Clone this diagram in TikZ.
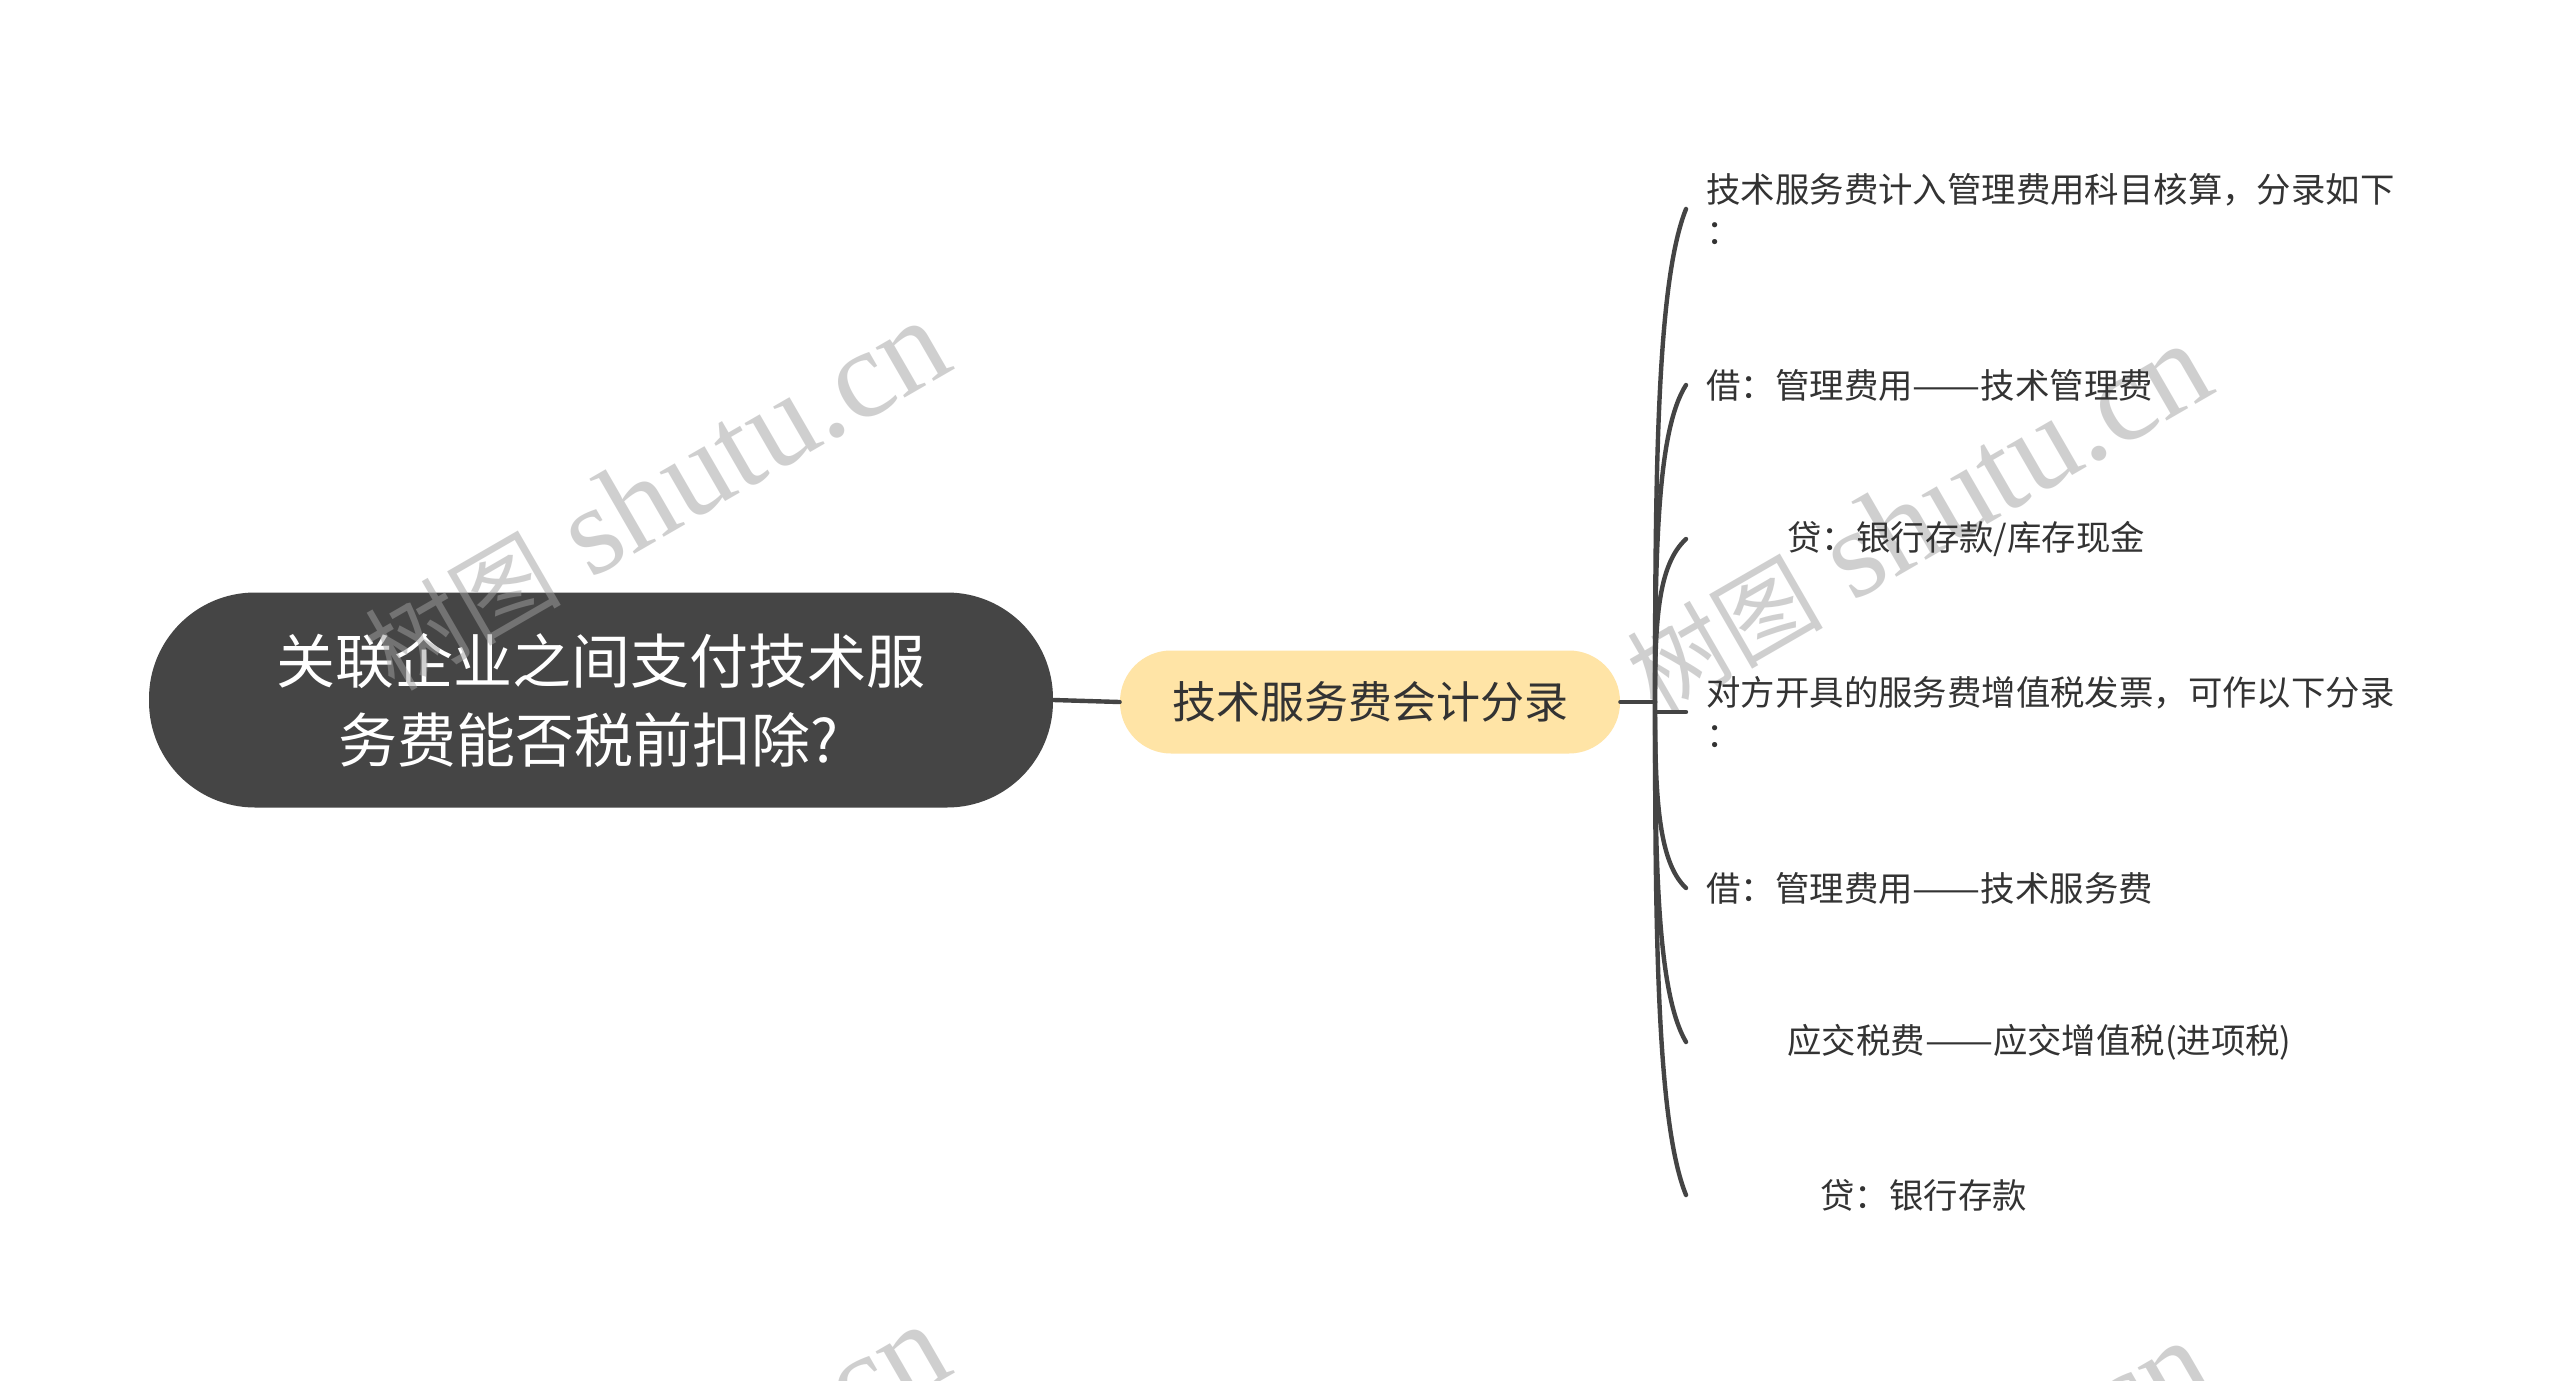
\documentclass[tikz,border=0pt]{standalone}
\usepackage{graphicx}
\usepackage{fontspec}
\setmainfont{Noto Sans CJK SC}
\newfontfamily\wmlatin{Liberation Serif}
\newfontfamily\wmcjk{Noto Sans CJK SC}
\definecolor{rootfill}{HTML}{454545}
\definecolor{midfill}{HTML}{FFE4A6}
\definecolor{txt}{HTML}{333333}
\definecolor{linec}{HTML}{444444}
\definecolor{wmc}{rgb}{0.63,0.63,0.63}
\newcommand{\dashpair}{\scalebox{1.18}[1]{——}}
\newcommand{\wmtext}{{\wmcjk\fontsize{49pt}{49pt}\selectfont 树图}\hspace{15pt}{\wmlatin\fontsize{63pt}{63pt}\selectfont shutu.cn}}
\begin{document}
\begin{tikzpicture}[x=0.5pt,y=-0.5pt,
  rootbox/.style={rectangle, rounded corners=53pt, fill=rootfill, minimum width=452pt, minimum height=107.5pt, text=white, font=\fontsize{29.5pt}{39.5pt}\selectfont, align=center, inner sep=0pt},
  midbox/.style={rectangle, rounded corners=25.5pt, fill=midfill, minimum width=250pt, minimum height=51.5pt, text=txt, font=\fontsize{22pt}{26pt}\selectfont, inner sep=0pt},
  leaf/.style={anchor=west, inner xsep=10pt, inner ysep=0pt, text=txt, font=\fontsize{17.2pt}{21pt}\selectfont, align=left},
  conn/.style={draw=linec, line width=2.2pt, line cap=round},
  wm/.style={text=wmc, opacity=0.5, rotate=30, inner sep=0pt}
]
\useasboundingbox (0,0) rectangle (2560,1381);
\begin{scope}
\clip (0,0) rectangle (2560,1381);
\fill[white] (0,0) rectangle (2560,1381);

% root node
\node[rootbox] (root) at (601,700) {关联企业之间支付技术服\\务费能否税前扣除?\hspace*{13pt}};

% watermarks
\node[wm] (wm1) at (656,496) {\wmtext};
\node[wm] (wm2) at (1918,519) {\wmtext};
\node[wm] (wm3) at (656,1500) {\wmtext};
\node[wm] (wm4) at (1918,1516) {\wmtext};

% middle node
\node[midbox] (mid) at (1370,702) {技术服务费会计分录};

% leaves
\node[leaf] (l1) at (1686,209) {技术服务费计入管理费用科目核算，分录如下\\：};
\node[leaf] (l2) at (1686,385) {借：管理费用\dashpair 技术管理费};
\node[leaf] (l3) at (1686,539) {\hspace*{40.5pt}贷：银行存款/库存现金};
\node[leaf] (l4) at (1686,712) {对方开具的服务费增值税发票，可作以下分录\\：};
\node[leaf] (l5) at (1686,888) {借：管理费用\dashpair 技术服务费};
\node[leaf] (l6) at (1686,1042) {\hspace*{40.5pt}应交税费\dashpair 应交增值税(进项税)};
\node[leaf] (l7) at (1686,1195) {\hspace*{57pt}贷：银行存款};

% connectors
\coordinate (tr) at (1655,702);
\draw[conn] (root.east) -- (mid.west);
\draw[conn] (mid.east) -- (tr);
\draw[conn] (tr) .. controls (1655,455) and (1658,279) .. (l1.west);
\draw[conn] (tr) .. controls (1655,543) and (1658,429) .. (l2.west);
\draw[conn] (tr) .. controls (1655,620) and (1658,565) .. (l3.west);
\draw[conn] (tr) |- (l4.west);
\draw[conn] (tr) .. controls (1655,795) and (1658,862) .. (l5.west);
\draw[conn] (tr) .. controls (1655,872) and (1658,994) .. (l6.west);
\draw[conn] (tr) .. controls (1655,948) and (1658,1126) .. (l7.west);
\end{scope}
\end{tikzpicture}
\end{document}
